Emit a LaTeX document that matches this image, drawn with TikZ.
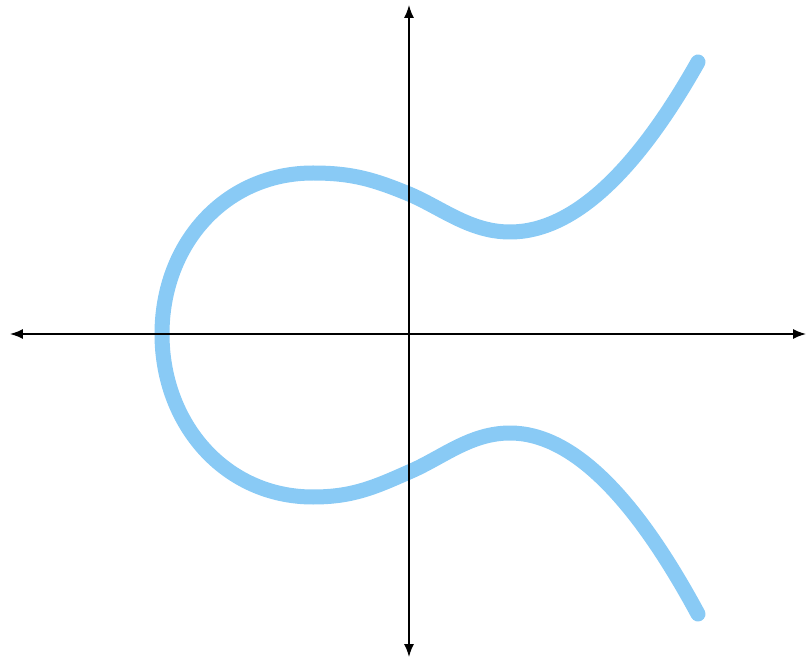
\documentclass[tikz,border=0pt]{standalone}
\usetikzlibrary{arrows.meta}
\definecolor{curveblue}{RGB}{137,202,245}
\tikzset{
  axisline/.style={black, line width=1.5pt, {Latex[length=13pt,width=10pt]}-{Latex[length=13pt,width=10pt]}},
  ecurve/.style={curveblue, line width=15pt, line cap=round, line join=round}
}
\begin{document}
\begin{tikzpicture}[x=1pt,y=1pt]
\useasboundingbox (-409,-327) rectangle (399,334);
% axes
\coordinate (xl) at (-399,0);
\coordinate (xr) at (397,0);
\coordinate (yt) at (0,329);
\coordinate (yb) at (0,-323);
% curve
\draw[ecurve] (289,-280) .. controls (227,-165) and (164,-99) .. (101,-99)
  .. controls (61,-99) and (33,-124) .. (0,-138)
  .. controls (-34,-153) and (-56,-163) .. (-96,-163)
  .. controls (-184,-163) and (-247,-90) .. (-247,0)
  .. controls (-247,90) and (-184,161) .. (-96,161)
  .. controls (-56,161) and (-34,154) .. (0,140)
  .. controls (33,126) and (61,102) .. (101,102)
  .. controls (164,102) and (227,162) .. (289,272);
\draw[axisline] (xl) -- (xr);
\draw[axisline] (yb) -- (yt);
\end{tikzpicture}
\end{document}
